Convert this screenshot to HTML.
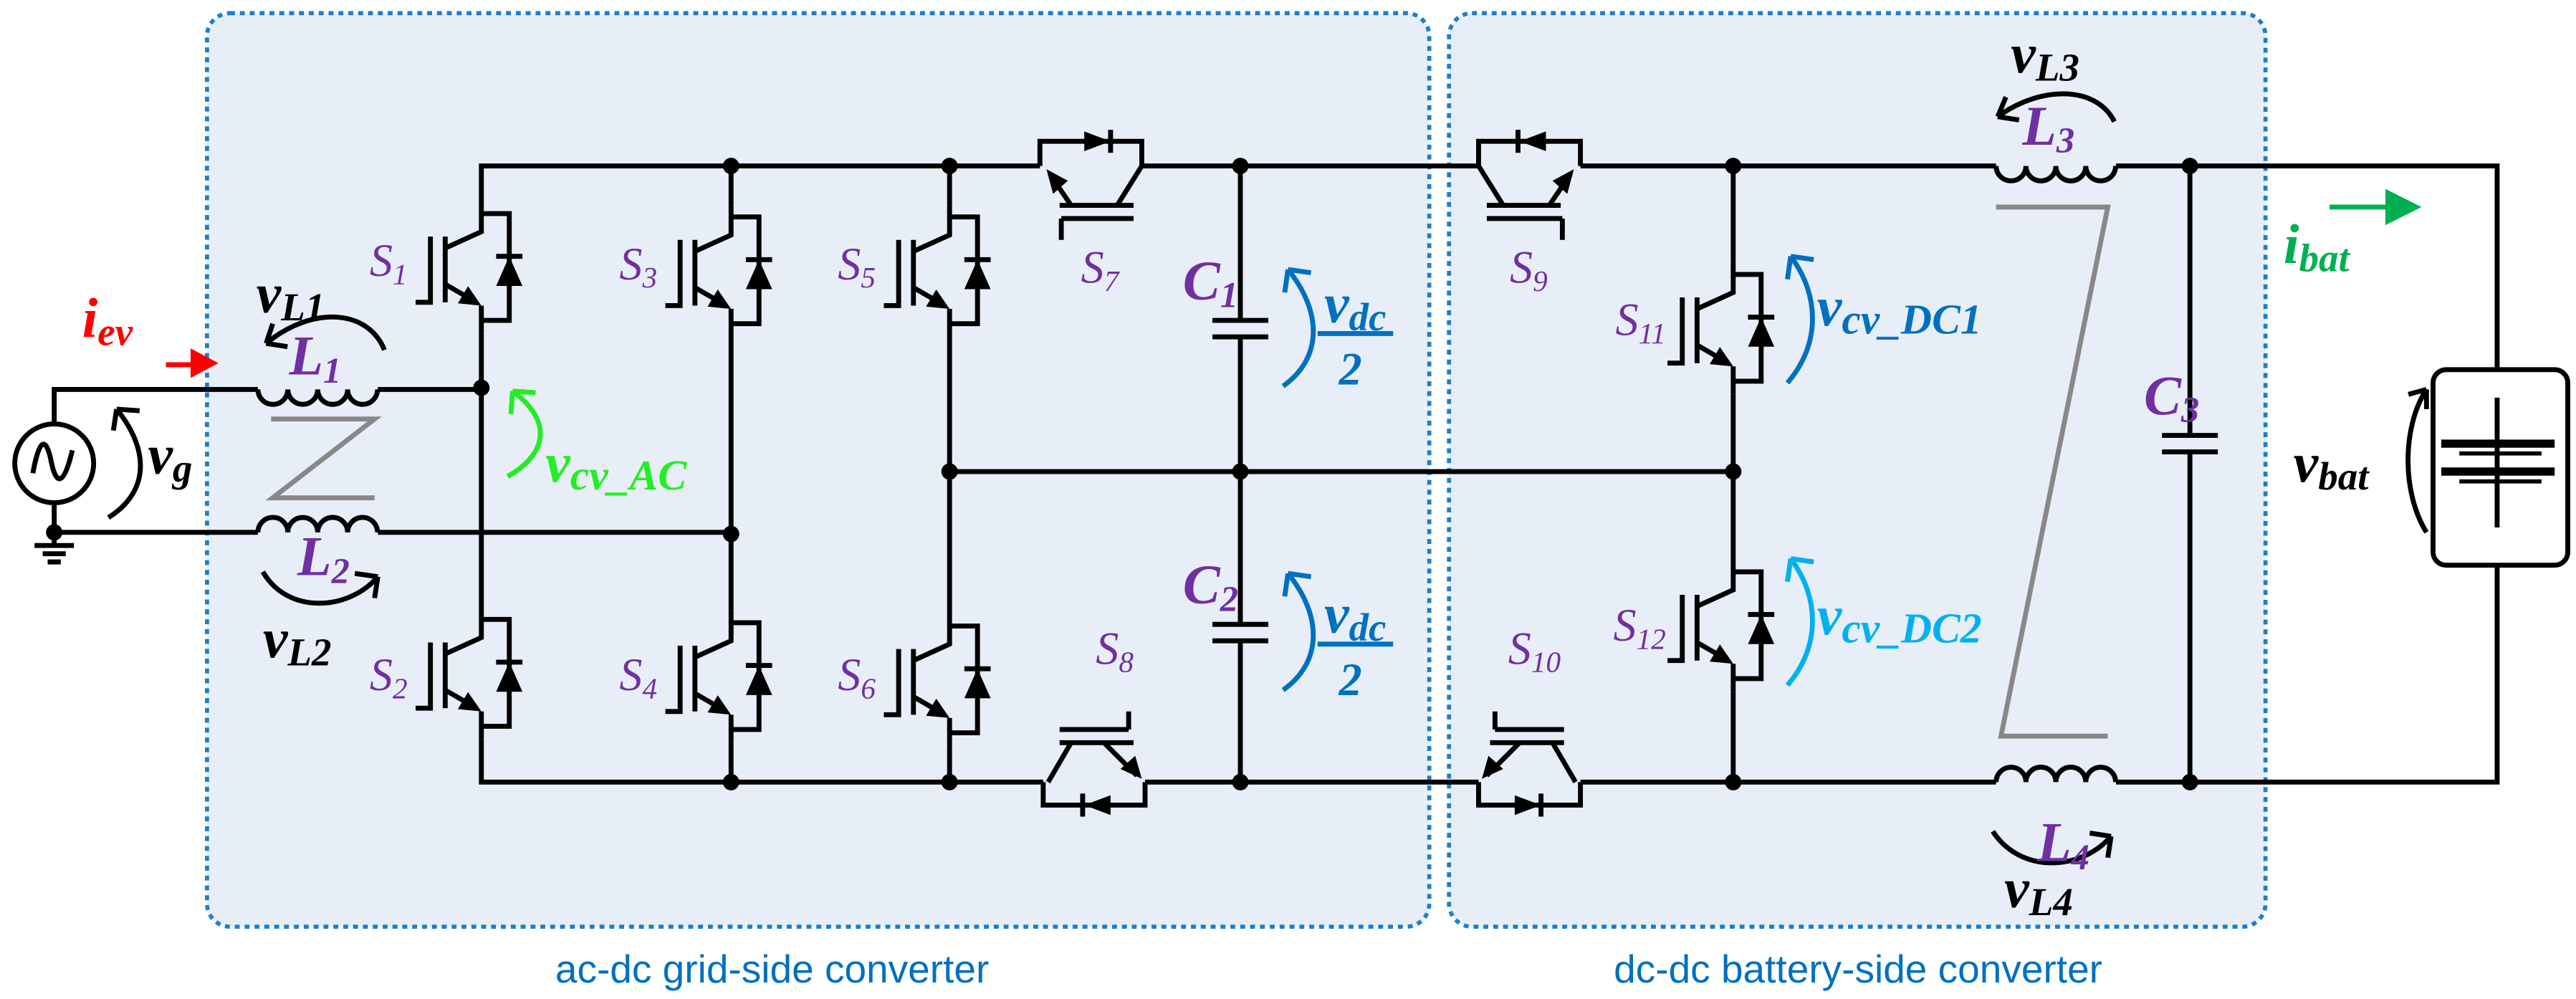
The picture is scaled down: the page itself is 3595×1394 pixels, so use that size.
<!DOCTYPE html>
<html><head><meta charset="utf-8"><style>html,body{margin:0;padding:0;background:#fff}svg{display:block}
.sf{font-family:"Liberation Serif",serif}
.ss{font-family:"Liberation Sans",sans-serif}
</style></head>
<body>
<svg width="3595" height="1394" viewBox="0 0 1568 608" preserveAspectRatio="none" xmlns="http://www.w3.org/2000/svg">
<defs>
<g id="igbt" fill="none" stroke="#000" stroke-width="3">
<path d="M0,-33 H17 V32 H0"/>
<path d="M0,-40 V-22 L-22,-12"/>
<path d="M-22,-19 V21"/>
<path d="M-22,10 L-3,21"/>
<path d="M0,23 V40"/>
<path d="M-31,-19 V21 H-40"/>
<path d="M9,-7 H25"/>
<polygon points="17,-7 9,11 25,11" fill="#000" stroke="none"/>
<polygon points="0,23 -14.3,21.6 -8.1,11.2" fill="#000" stroke="none"/>
</g>
</defs>
<rect x="126" y="8" width="744" height="556" rx="14" fill="#e8eef7" stroke="#1a7fd0" stroke-width="2.5" stroke-dasharray="3,3"/>
<rect x="882" y="8" width="497" height="556" rx="14" fill="#e8eef7" stroke="#1a7fd0" stroke-width="2.5" stroke-dasharray="3,3"/>
<text class="ss" x="470" y="598" font-size="24" fill="#0070c0" text-anchor="middle">ac-dc grid-side converter</text>
<text class="ss" x="1131" y="598" font-size="24" fill="#0070c0" text-anchor="middle">dc-dc battery-side converter</text>

<g fill="none" stroke="#000" stroke-width="3">
<path d="M293,123 V101 H633 M695,101 H900 M962,101 H1215 M1288,101 H1520 V225"/>
<path d="M293,450 V476 H635 M697,476 H900 M962,476 H1215 M1288,476 H1520 V344"/>
<path d="M578,287 H1055"/>
<path d="M293,203 V370"/>
<path d="M445,101 V125 M445,205 V372 M445,452 V476"/>
<path d="M578,101 V125 M578,205 V374 M578,454 V476"/>
<path d="M1055,101 V160 M1055,240 V341 M1055,421 V476"/>
<path d="M33,257 V237 H157 M230,237 H293"/>
<path d="M33,306 V324 H157 M230,324 H445"/>
<path d="M33,324 V332 M21,332 H45 M26,337 H40 M29,342 H37"/>
<circle cx="33" cy="282" r="24"/>
<path d="M20,288 C24,266 28,266 31,280 C34,296 39,296 44,274"/>
<path d="M157,237 a9.1,9.1 0 0 0 18.2,0 a9.1,9.1 0 0 0 18.2,0 a9.1,9.1 0 0 0 18.2,0 a9.1,9.1 0 0 0 18.2,0"/>
<path d="M157,324 a9.1,9.1 0 0 1 18.2,0 a9.1,9.1 0 0 1 18.2,0 a9.1,9.1 0 0 1 18.2,0 a9.1,9.1 0 0 1 18.2,0"/>
<path d="M1215,101 a9.1,9.1 0 0 0 18.2,0 a9.1,9.1 0 0 0 18.2,0 a9.1,9.1 0 0 0 18.2,0 a9.1,9.1 0 0 0 18.2,0"/>
<path d="M1215,476 a9.1,9.1 0 0 1 18.2,0 a9.1,9.1 0 0 1 18.2,0 a9.1,9.1 0 0 1 18.2,0 a9.1,9.1 0 0 1 18.2,0"/>
<path d="M755,101 V195 M738,195 H772 M738,205 H772 M755,205 V380 M738,380 H772 M738,390 H772 M755,390 V476"/>
<path d="M1333,101 V265 M1316,265 H1350 M1316,275 H1350 M1333,275 V476"/>
<rect x="1481" y="225" width="82" height="119" rx="8"/>
<path d="M1520,242 V321"/>
<path d="M1486,270 H1555 M1486,287 H1555" stroke-width="5"/>
<path d="M1497,276 H1547 M1497,293 H1547" stroke-width="2.5"/>
<path d="M633,101 V86 H695 V101 M676,79 V93 M695,101 L680,125 M652,125 L639,106 M645,125 H690 M646,133 H690 M646,133 V146"/>
<path d="M635,476 V490 H697 V476 M659,483 V497 M638,476 L652,452 M672,452 L692,472 M645,452 H690 M645,444 H687 M687,444 V433"/>
<path d="M900,101 V86 H962 V101 M924,79 V93 M900,101 L915,125 M943,125 L956,106 M905,125 H950 M905,133 H951 M951,133 V146"/>
<path d="M900,476 V490 H962 V476 M938,483 V497 M959,476 L945,452 M925,452 L905,472 M907,452 H952 M910,444 H952 M910,444 V433"/>
<path d="M165,255 H228 L166,303 H228 M1215,126 H1283 L1218,448 H1283" stroke="#888" stroke-width="3"/>
</g>
<g fill="#000">
<polygon points="660,80 660,92 676,86"/>
<polygon points="637,103 650,110 641,118"/>
<polygon points="676,484 676,496 660,490"/>
<polygon points="695,474 691,460 682,468"/>
<polygon points="941,80 941,92 925,86"/>
<polygon points="958,103 945,110 954,118"/>
<polygon points="922,484 922,496 938,490"/>
<polygon points="902,474 906,460 915,468"/>
<circle cx="293" cy="236" r="5"/><circle cx="445" cy="101" r="5"/><circle cx="445" cy="325" r="5"/><circle cx="445" cy="476" r="5"/>
<circle cx="578" cy="101" r="5"/><circle cx="578" cy="287" r="5"/><circle cx="578" cy="476" r="5"/>
<circle cx="755" cy="101" r="5"/><circle cx="755" cy="287" r="5"/><circle cx="755" cy="476" r="5"/>
<circle cx="1055" cy="101" r="5"/><circle cx="1055" cy="287" r="5"/><circle cx="1055" cy="476" r="5"/>
<circle cx="1333" cy="101" r="5"/><circle cx="1333" cy="476" r="5"/><circle cx="33" cy="324" r="5"/>
</g>
<use href="#igbt" x="293" y="163"/>
<use href="#igbt" x="293" y="410"/>
<use href="#igbt" x="445" y="165"/>
<use href="#igbt" x="445" y="412"/>
<use href="#igbt" x="578" y="165"/>
<use href="#igbt" x="578" y="414"/>
<use href="#igbt" x="1055" y="200"/>
<use href="#igbt" x="1055" y="381"/>

<g fill="none" stroke-width="3">
<path d="M234,213 C224,188 190,186 162,209" stroke="#000"/>
<path d="M162,209 L175,211 M162,209 L166,197" stroke="#000"/>
<path d="M160,348 C175,374 212,372 230,351" stroke="#000"/>
<path d="M230,351 L216,349 M230,351 L228,364" stroke="#000"/>
<path d="M66,315 C90,300 92,275 71,249" stroke="#000"/>
<path d="M71,249 L85,250 M71,249 L69,262" stroke="#000"/>
<path d="M309,290 C335,275 335,255 312,238" stroke="#22ee22"/>
<path d="M312,238 L326,239 M312,238 L311,252" stroke="#22ee22"/>
<path d="M781,235 C805,218 805,190 784,164" stroke="#0070c0"/>
<path d="M784,164 L798,166 M784,164 L782,178" stroke="#0070c0"/>
<path d="M781,420 C805,403 805,375 784,349" stroke="#0070c0"/>
<path d="M784,349 L798,351 M784,349 L782,363" stroke="#0070c0"/>
<path d="M1088,233 C1108,210 1108,180 1090,156" stroke="#0070c0"/>
<path d="M1090,156 L1104,158 M1090,156 L1088,170" stroke="#0070c0"/>
<path d="M1088,417 C1108,394 1108,364 1090,340" stroke="#00b0f0"/>
<path d="M1090,340 L1104,342 M1090,340 L1088,354" stroke="#00b0f0"/>
<path d="M1287,74 C1276,52 1242,52 1216,71" stroke="#000"/>
<path d="M1216,71 L1229,73 M1216,71 L1221,59" stroke="#000"/>
<path d="M1213,506 C1230,532 1267,530 1285,509" stroke="#000"/>
<path d="M1285,509 L1272,507 M1285,509 L1283,522" stroke="#000"/>
<path d="M1477,324 C1462,300 1462,260 1477,237" stroke="#000"/>
<path d="M1477,237 L1466,240 M1477,237 L1477,249" stroke="#000"/>
<path d="M101,222 H118" stroke="#f00"/>
<path d="M1418,126 H1455" stroke="#00b050"/>
</g>
<polygon points="116,212 133,221 116,230" fill="#f00"/>
<polygon points="1452,115 1474,126 1452,137" fill="#00b050"/>
<path d="M802,203 H848 M802,392 H848" stroke="#0070c0" stroke-width="3"/>

<g class="sf" font-style="italic" font-size="28" fill="#7030a0" text-anchor="end">
<text x="248" y="168">S<tspan font-size="18" dy="5">1</tspan></text>
<text x="248" y="420">S<tspan font-size="18" dy="5">2</tspan></text>
<text x="400" y="170">S<tspan font-size="18" dy="5">3</tspan></text>
<text x="400" y="420">S<tspan font-size="18" dy="5">4</tspan></text>
<text x="533" y="170">S<tspan font-size="18" dy="5">5</tspan></text>
<text x="533" y="420">S<tspan font-size="18" dy="5">6</tspan></text>
<text x="681" y="172">S<tspan font-size="18" dy="5">7</tspan></text>
<text x="690" y="404">S<tspan font-size="18" dy="5">8</tspan></text>
<text x="942" y="172">S<tspan font-size="18" dy="5">9</tspan></text>
<text x="950" y="404">S<tspan font-size="18" dy="5">10</tspan></text>
<text x="1014" y="204">S<tspan font-size="18" dy="5">11</tspan></text>
<text x="1014" y="390">S<tspan font-size="18" dy="5">12</tspan></text>
</g>
<g class="sf" font-style="italic" font-weight="bold" font-size="34">
<text x="176" y="228" fill="#7030a0">L<tspan font-size="22" dy="5">1</tspan></text>
<text x="181" y="350" fill="#7030a0">L<tspan font-size="22" dy="5">2</tspan></text>
<text x="1231" y="88" fill="#7030a0">L<tspan font-size="22" dy="5">3</tspan></text>
<text x="1240" y="524" fill="#7030a0">L<tspan font-size="22" dy="5">4</tspan></text>
<text x="720" y="182" fill="#7030a0">C<tspan font-size="22" dy="5">1</tspan></text>
<text x="720" y="367" fill="#7030a0">C<tspan font-size="22" dy="5">2</tspan></text>
<text x="1305" y="252" fill="#7030a0">C<tspan font-size="22" dy="5">3</tspan></text>
<text x="156" y="190" fill="#000">v<tspan font-size="24" dy="5">L1</tspan></text>
<text x="160" y="400" fill="#000">v<tspan font-size="24" dy="5">L2</tspan></text>
<text x="1224" y="44" fill="#000">v<tspan font-size="24" dy="5">L3</tspan></text>
<text x="1220" y="552" fill="#000">v<tspan font-size="24" dy="5">L4</tspan></text>
<text x="90" y="288" fill="#000">v<tspan font-size="24" dy="5">g</tspan></text>
<text x="1396" y="293" fill="#000">v<tspan font-size="24" dy="5">bat</tspan></text>
<text x="50" y="205" fill="#f00">i<tspan font-size="24" dy="5">ev</tspan></text>
<text x="1390" y="160" fill="#00b050">i<tspan font-size="24" dy="5">bat</tspan></text>
<text x="332" y="293" fill="#22ee22">v<tspan font-size="26" dy="5">cv_AC</tspan></text>
<text x="1106" y="198" fill="#0070c0">v<tspan font-size="26" dy="5">cv_DC1</tspan></text>
<text x="1106" y="386" fill="#00b0f0">v<tspan font-size="26" dy="5">cv_DC2</tspan></text>
<text x="806" y="196" fill="#0070c0">v<tspan font-size="24" dy="5">dc</tspan></text>
<text x="815" y="234" fill="#0070c0" font-size="28">2</text>
<text x="806" y="385" fill="#0070c0">v<tspan font-size="24" dy="5">dc</tspan></text>
<text x="815" y="423" fill="#0070c0" font-size="28">2</text>
</g>
</svg>
</body></html>
